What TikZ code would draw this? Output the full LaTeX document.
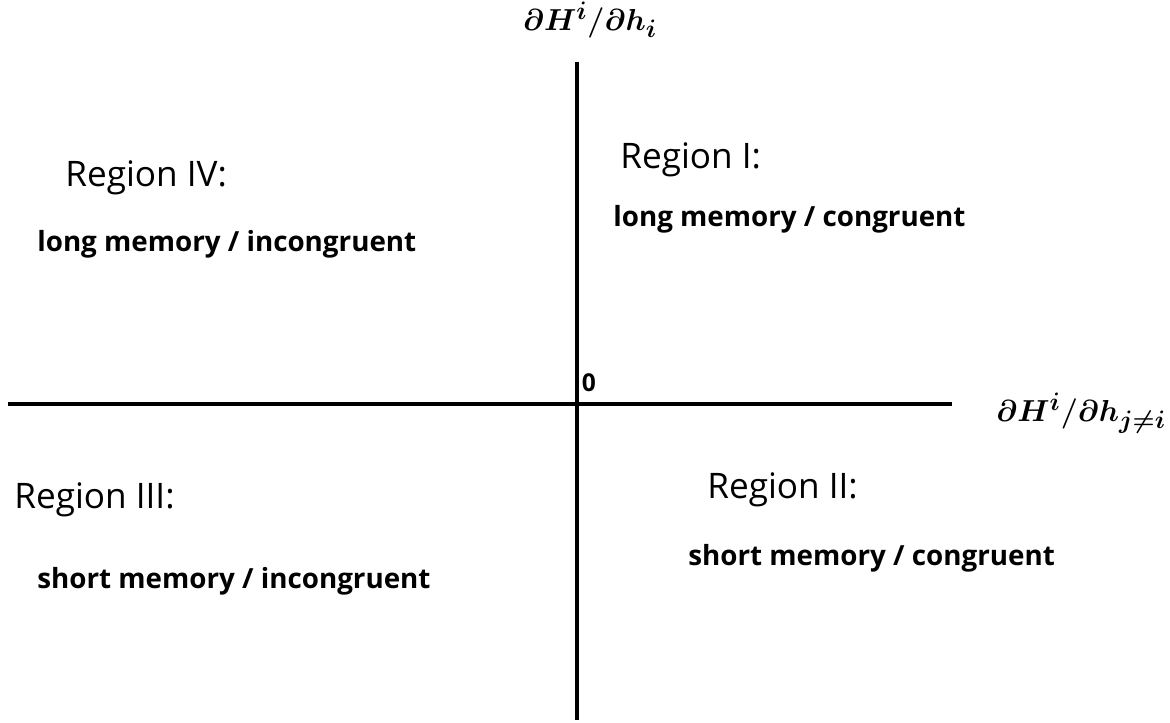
\documentclass[tikz,border=0pt]{standalone}
\usepackage{fontspec}
\setsansfont{Open Sans}
\usepackage{amsmath,amssymb,bm}
\tikzset{
  axis/.style={line width=2.2pt},
  regionname/.style={anchor=west,inner sep=0pt,font=\sffamily\fontsize{20}{24}\selectfont},
  regiontext/.style={anchor=west,inner sep=0pt,font=\sffamily\bfseries\fontsize{15.8}{19}\selectfont},
  axislabel/.style={inner sep=0pt,font=\fontsize{19}{23}\selectfont},
}
\begin{document}
\begin{tikzpicture}
        \useasboundingbox (0,0) rectangle (23.4,-14.46);
        \draw [axis] (11.54,-1.24) coordinate (ytop) -- (11.54,-14.4) coordinate (ybot);
        \draw [axis] (0.16,-8.08) coordinate (xleft) -- (19.04,-8.08) coordinate (xright);
        \node (ylabel) [axislabel] at (11.8,-0.4) {$\bm{\partial H^{i}/\partial h_{i}}$};
        \node (xlabel) [axislabel,anchor=west] at (19.92,-8.26) {$\bm{\partial H^{i}/\partial h_{j\neq i}}$};
        \node (origin) [inner sep=0pt,font=\sffamily\bfseries\fontsize{14}{16}\selectfont] at (11.78,-7.66) {0};
        % quadrants
        \node (r1) [regionname] at (12.4,-3.2) {Region I:};
        \node (t1) [regiontext] at (12.26,-4.38) {long memory / congruent};
        \node (r2) [regionname] at (14.14,-9.8) {Region II:};
        \node (t2) [regiontext] at (13.76,-11.16) {short memory / congruent};
        \node (r3) [regionname] at (0.28,-10.0) {Region III:};
        \node (t3) [regiontext] at (0.74,-11.62) {short memory / incongruent};
        \node (r4) [regionname] at (1.3,-3.56) {Region IV:};
        \node (t4) [regiontext] at (0.74,-4.88) {long memory / incongruent};
\end{tikzpicture}
\end{document}
